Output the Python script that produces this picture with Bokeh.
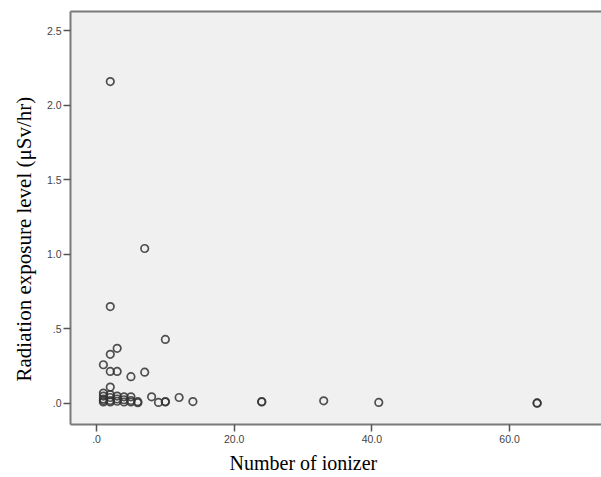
from bokeh.plotting import figure
from bokeh.models import Range1d, LinearAxis, Title, FixedTicker
from bokeh.embed import file_html
from bokeh.resources import INLINE

# Number of ionizers and radiation exposure (uSv/hr)
ionizer = [2, 7, 2, 10, 3, 2, 1, 2, 3, 7, 5, 2,
           1, 1, 1, 1, 1,
           2, 2, 2, 2,
           3, 3, 3,
           4, 4, 4,
           5, 5, 5,
           6, 6,
           8, 9, 10, 10, 12, 14, 24, 24, 33, 41, 64, 64]
radiation = [2.16, 1.04, 0.65, 0.43, 0.37, 0.33, 0.26, 0.215, 0.215, 0.21, 0.18, 0.11,
             0.07, 0.05, 0.03, 0.02, 0.01,
             0.06, 0.04, 0.02, 0.01,
             0.05, 0.03, 0.015,
             0.045, 0.025, 0.01,
             0.045, 0.02, 0.01,
             0.012, 0.005,
             0.045, 0.007, 0.013, 0.01, 0.04, 0.013, 0.013, 0.01, 0.018, 0.007, 0.002, 0.004]

x_ticks = [0, 20, 40, 60]
x_tick_labels = [".0", "20.0", "40.0", "60.0"]
y_ticks = [0, 0.5, 1.0, 1.5, 2.0, 2.5]
y_tick_labels = [".0", ".5", "1.0", "1.5", "2.0", "2.5"]

p = figure(width=601, height=477, output_backend="svg", toolbar_location=None,
           x_range=Range1d(-3.78, 73.35), y_range=Range1d(-0.141, 2.63),
           min_border_left=70, min_border_top=11, min_border_bottom=20, min_border_right=0)

p.background_fill_color = "#f0f0f0"
p.border_fill_color = "white"
p.outline_line_color = None
p.grid.visible = False

p.scatter(ionizer, radiation, marker="circle", size=7.5, fill_color=None,
          line_color="#333333", line_width=1.7, line_alpha=0.85)

for ax in [p.xaxis[0], p.yaxis[0]]:
    ax.axis_line_color = "#7a7a7a"
    ax.axis_line_width = 2
    ax.major_tick_line_color = "#555555"
    ax.major_tick_line_width = 1.5
    ax.major_tick_out = 7
    ax.major_tick_in = 0
    ax.minor_tick_out = 0
    ax.minor_tick_in = 0
    ax.major_label_text_font = "Liberation Sans"
    ax.major_label_text_font_size = "10.5px"
    ax.major_label_text_color = "#444444"

p.xaxis[0].ticker = FixedTicker(ticks=x_ticks)
p.xaxis[0].major_label_overrides = dict(zip(x_ticks, x_tick_labels))
p.xaxis[0].major_label_standoff = 3
p.yaxis[0].ticker = FixedTicker(ticks=y_ticks)
p.yaxis[0].major_label_overrides = dict(zip(y_ticks, y_tick_labels))
p.yaxis[0].major_label_standoff = 2

top = LinearAxis(ticker=FixedTicker(ticks=[]), major_label_text_font_size="0px",
                 major_tick_out=0, major_tick_in=0, minor_tick_out=0, minor_tick_in=0,
                 axis_line_color="#7a7a7a", axis_line_width=2)
p.add_layout(top, "above")

yt = Title(text="Radiation exposure level (\u03bcSv/hr)", align="left", offset=43,
           text_font="Liberation Serif", text_font_size="21px",
           text_font_style="normal", text_color="black", standoff=16)
p.add_layout(yt, "left")

xt = Title(text="Number of ionizer", align="left", offset=159,
           text_font="Liberation Serif", text_font_size="20px",
           text_font_style="normal", text_color="black", standoff=8)
p.add_layout(xt, "below")

open("out.html", "w").write(file_html(p, INLINE))
